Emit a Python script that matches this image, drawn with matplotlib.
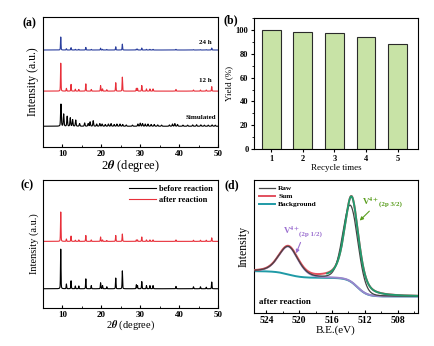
import numpy as np
import matplotlib
matplotlib.use('Agg')
import matplotlib.pyplot as plt
from matplotlib.ticker import MultipleLocator

plt.rcParams['font.family'] = ['Liberation Serif', 'DejaVu Serif']
plt.rcParams['font.weight'] = 'bold'
plt.rcParams['mathtext.fontset'] = 'stix'
plt.rcParams['axes.linewidth'] = 0.8

# XRD reflections (2theta, relative intensity)
exp_pos = [9.55, 11.0, 12.2, 13.3, 14.2, 16.0, 17.4, 19.8, 20.3, 21.4, 23.7, 25.4,
           29.0, 29.3, 30.4, 31.6, 32.5, 33.3, 39.2, 43.7, 45.5, 47.0, 48.4]
h_24h = [1.0, 0.10, 0.18, 0.05, 0.05, 0.20, 0.05, 0.14, 0.05, 0.04, 0.25, 0.45,
         0.07, 0.07, 0.15, 0.05, 0.05, 0.05, 0.05, 0.03, 0.03, 0.03, 0.15]
h_12h = [1.0, 0.10, 0.24, 0.07, 0.06, 0.26, 0.06, 0.20, 0.08, 0.05, 0.30, 0.50,
         0.10, 0.10, 0.20, 0.08, 0.08, 0.08, 0.06, 0.04, 0.04, 0.04, 0.16]
h_before = [1.0, 0.12, 0.20, 0.07, 0.07, 0.25, 0.08, 0.15, 0.08, 0.05, 0.27, 0.45,
            0.10, 0.08, 0.18, 0.08, 0.08, 0.08, 0.06, 0.05, 0.05, 0.04, 0.17]
h_after = [1.0, 0.08, 0.18, 0.04, 0.05, 0.20, 0.05, 0.15, 0.05, 0.03, 0.20, 0.25,
           0.05, 0.05, 0.15, 0.05, 0.05, 0.05, 0.05, 0.04, 0.04, 0.04, 0.12]
sim_pos = [9.6, 10.3, 11.2, 12.0, 12.6, 13.4, 14.4, 15.7, 16.6, 17.1, 17.9, 18.8,
           19.6, 20.2, 21.0, 21.8, 22.5, 23.3, 24.0, 24.8, 25.5, 26.4, 28.0, 29.4,
           30.0, 30.6, 31.3, 32.0, 32.8, 33.6, 34.5, 35.5, 37.5, 38.3, 38.9, 39.6,
           41.0, 42.2, 43.5, 44.5, 45.6, 46.5, 47.5, 48.5, 49.3]
h_sim = [1.0, 0.55, 0.45, 0.38, 0.30, 0.28, 0.12, 0.15, 0.12, 0.20, 0.25, 0.10,
         0.12, 0.10, 0.08, 0.10, 0.12, 0.08, 0.10, 0.10, 0.08, 0.06, 0.05, 0.10,
         0.14, 0.12, 0.10, 0.10, 0.08, 0.08, 0.06, 0.05, 0.06, 0.10, 0.12, 0.08,
         0.05, 0.05, 0.06, 0.07, 0.06, 0.05, 0.05, 0.06, 0.05]

# recycling test
cycles = [1, 2, 3, 4, 5]
yields = [100, 98.5, 97.5, 94, 88]

# V 2p XPS fit: (center eV, height, fwhm, lorentz fraction)
v_half = (521.3, 0.21, 2.8, 0.3)
v_three = (513.6, 0.645, 2.0, 0.5)
raw_three = (513.75, 0.57, 2.15, 0.1)
bg_low, bg_step, bg_edge = 0.125, 0.14, 0.05


def profile(x, c, fwhm, eta=0.0):
    g = np.exp(-4 * np.log(2) * ((x - c) / fwhm) ** 2)
    l = 1.0 / (1 + (2 * (x - c) / fwhm) ** 2)
    return (1 - eta) * g + eta * l


def pattern(x, pos, hts, base, amp, w):
    y = np.zeros_like(x)
    for p, h in zip(pos, hts):
        y += h * profile(x, p, w, 0.3)
    return base + amp * y


def shirley(e):
    return (bg_low + bg_step / (1 + np.exp(-(e - 512.9) / 0.6))
            + bg_edge / (1 + np.exp(-(e - 521.3) / 0.8)))


fig = plt.figure(figsize=(4.35, 3.46), dpi=100)
ax_a = fig.add_axes([0.099, 0.575, 0.402, 0.376])
ax_b = fig.add_axes([0.584, 0.569, 0.377, 0.379])
ax_c = fig.add_axes([0.099, 0.110, 0.402, 0.370])
ax_d = fig.add_axes([0.584, 0.095, 0.377, 0.385])

tx = np.linspace(5, 50, 4000)

for ax, fx, fy in ((ax_a, 9, 8.5), (ax_c, 7.5, 7.5)):
    ax.set_xlim(5, 50)
    ax.set_ylim(0, 1)
    ax.set_yticks([])
    ax.xaxis.set_major_locator(MultipleLocator(10))
    ax.xaxis.set_minor_locator(MultipleLocator(5))
    ax.tick_params(axis='x', which='both', direction='in', labelsize=6.5, pad=2)
    ax.tick_params(axis='x', which='major', length=2.5)
    ax.tick_params(axis='x', which='minor', length=1.5)
    ax.set_xlabel(r'2$\mathit{\theta}$ (degree)', fontsize=fx, labelpad=0)
    ax.set_ylabel('Intensity (a.u.)', fontsize=fy, labelpad=3)

# (a) as-synthesized vs simulated
ax_a.plot(tx, pattern(tx, exp_pos, h_24h, 0.746, 0.10, 0.15), color='#2b3f9e', lw=0.8)
ax_a.plot(tx, pattern(tx, exp_pos, h_12h, 0.43, 0.215, 0.15), color='#e8303a', lw=0.8)
ax_a.plot(tx, pattern(tx, sim_pos, h_sim, 0.16, 0.17, 0.22), color='black', lw=0.8)
ax_a.text(48.5, 0.80, '24 h', fontsize=5, ha='right', va='center')
ax_a.text(48.5, 0.51, '12 h', fontsize=5, ha='right', va='center')
ax_a.text(49.5, 0.23, 'Simulated', fontsize=5, ha='right', va='center')

# (c) before / after catalysis
ax_c.plot(tx, pattern(tx, exp_pos, h_before, 0.15, 0.31, 0.15), color='black', lw=0.8,
          label='before reaction')
ax_c.plot(tx, pattern(tx, exp_pos, h_after, 0.52, 0.23, 0.15), color='#e8303a', lw=0.8,
          label='after reaction')
ax_c.legend(loc='upper right', frameon=False, fontsize=6, handlelength=3.2,
            borderaxespad=0.2, labelspacing=0.35, handletextpad=0.4)

# (b) yield over recycling runs
ax_b.bar(cycles, yields, width=0.6, color='#c8e3a6', edgecolor='#2a2a2a', linewidth=0.8)
ax_b.set_xlim(0.45, 5.65)
ax_b.set_ylim(0, 110)
ax_b.set_xticks(cycles)
ax_b.yaxis.set_major_locator(MultipleLocator(20))
ax_b.yaxis.set_minor_locator(MultipleLocator(10))
ax_b.tick_params(which='both', direction='out', labelsize=6, pad=1.5)
ax_b.tick_params(which='major', length=2.5)
ax_b.tick_params(which='minor', length=1.5)
ax_b.set_xlabel('Recycle times', fontsize=6.5, labelpad=1)
ax_b.set_ylabel('Yield (%)', fontsize=6.5, labelpad=2)

# (d) V 2p XPS after reaction
e = np.linspace(505.5, 525.5, 1500)
bg = shirley(e)
comp_half = v_half[1] * profile(e, v_half[0], v_half[2], v_half[3])
comp_three = v_three[1] * profile(e, v_three[0], v_three[2], v_three[3])
raw = (bg + comp_half
       + raw_three[1] * profile(e, raw_three[0], raw_three[2], raw_three[3]))
fit_sum = bg + comp_half + comp_three

ax_d.plot(e, bg, color='#1f9aa6', lw=1.4, label='Background', zorder=2)
ax_d.plot(e, bg + comp_half, color='#9b86cc', lw=1.4, zorder=3)
ax_d.plot(e, fit_sum, color='#e2505e', lw=1.4, label='Sum', zorder=4)
ax_d.plot(e, raw, color='#444444', lw=0.9, label='Raw', zorder=5)
green = e < 516.6
ax_d.plot(e[green], (bg + comp_three)[green], color='#229a6e', lw=1.4, zorder=6)

h, l = ax_d.get_legend_handles_labels()
order = [l.index('Raw'), l.index('Sum'), l.index('Background')]
ax_d.legend([h[i] for i in order], [l[i] for i in order], loc='upper left',
            frameon=False, fontsize=5.3, handlelength=2.2, borderaxespad=0.3,
            labelspacing=0.25, handletextpad=0.4)

ax_d.annotate('', xy=(520.5, 0.43), xytext=(519.7, 0.55),
              arrowprops=dict(arrowstyle='-|>', color='#9b6fd0', lw=0.8,
                              mutation_scale=5))
ax_d.text(522.0, 0.62, r'V$^{4+}$', color='#9b6fd0', fontsize=6.5,
          ha='left', va='center')
ax_d.text(520.0, 0.595, '(2p 1/2)', color='#9b6fd0', fontsize=5,
          ha='left', va='center')
ax_d.annotate('', xy=(512.85, 0.68), xytext=(511.2, 0.78),
              arrowprops=dict(arrowstyle='-|>', color='#5a9e1e', lw=0.8,
                              mutation_scale=5))
ax_d.text(512.3, 0.84, r'V$^{4+}$', color='#5a9e1e', fontsize=6.5,
          ha='left', va='center')
ax_d.text(510.3, 0.815, '(2p 3/2)', color='#5a9e1e', fontsize=5,
          ha='left', va='center')
ax_d.text(524.9, 0.08, 'after reaction', fontsize=6.5, ha='left', va='center')

ax_d.set_xlim(525.5, 505.5)
ax_d.set_ylim(0, 1)
ax_d.set_yticks([])
ax_d.xaxis.set_major_locator(MultipleLocator(4))
ax_d.xaxis.set_minor_locator(MultipleLocator(2))
ax_d.tick_params(axis='x', which='both', direction='in', labelsize=7, pad=2)
ax_d.tick_params(axis='x', which='major', length=2.5)
ax_d.tick_params(axis='x', which='minor', length=1.5)
ax_d.set_xlabel('B.E.(eV)', fontsize=8, labelpad=0)
ax_d.set_ylabel('Intensity', fontsize=8.5, labelpad=3)

panel_pos = {'(a)': (0.067, 0.934), '(b)': (0.530, 0.940),
             '(c)': (0.062, 0.465), '(d)': (0.533, 0.465)}
for lab, (px, py) in panel_pos.items():
    fig.text(px, py, lab, fontsize=8.5, ha='center', va='center')

fig.savefig('out.png', dpi=100)
